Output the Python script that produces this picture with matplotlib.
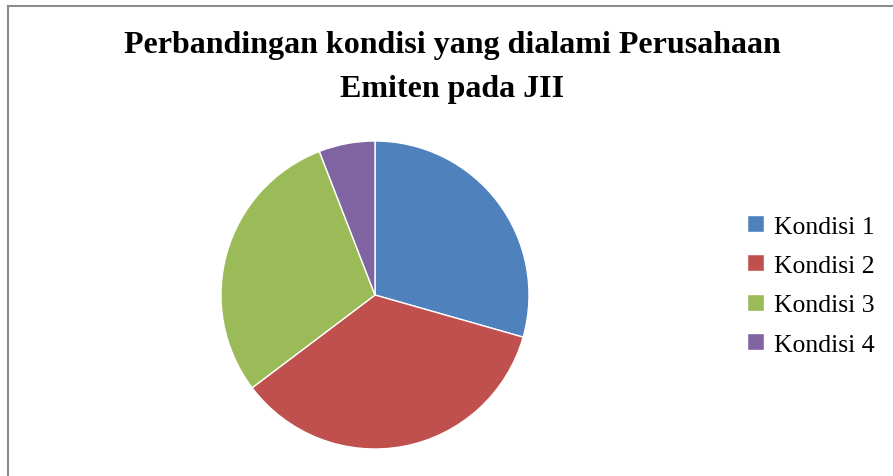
import matplotlib.pyplot as plt
from matplotlib.lines import Line2D

# data
labels = ["Kondisi 1", "Kondisi 2", "Kondisi 3", "Kondisi 4"]
values = [10, 12, 10, 2]
colors = ["#4F81BD", "#C0504D", "#9BBB59", "#8064A2"]

plt.rcParams['font.family'] = ['Liberation Serif', 'DejaVu Serif']

W, H = 893, 477
fig = plt.figure(figsize=(W / 100, H / 100), dpi=100)

# chart border (top and left edge visible)
fig.add_artist(Line2D([8 / W, 1], [1 - 7 / H, 1 - 7 / H], color="#8c8c8c", lw=1.5))
fig.add_artist(Line2D([8 / W, 8 / W], [0, 1 - 7 / H], color="#8c8c8c", lw=1.5))

cx, cy, r = 375, 296, 154
ax = fig.add_axes([(cx - r) / W, (H - cy - r) / H, 2 * r / W, 2 * r / H])
wedges, _ = ax.pie(values, colors=colors, startangle=90, counterclock=False,
                   wedgeprops=dict(edgecolor="white", linewidth=1))
ax.set_xlim(-1, 1)
ax.set_ylim(-1, 1)
ax.set_aspect("equal")

fig.text(452 / W, 1 - 46 / H, "Perbandingan kondisi yang dialami Perusahaan",
         ha="center", va="center", fontsize=23, fontweight="bold")
fig.text(452 / W, 1 - 90 / H, "Emiten pada JII",
         ha="center", va="center", fontsize=23, fontweight="bold")

fig.legend(wedges, labels, loc="upper left", bbox_to_anchor=(747 / W, 1 - 216 / H),
           frameon=False, fontsize=18.5, handlelength=0.65, handleheight=0.65,
           handletextpad=0.4, labelspacing=0.65, borderpad=0, borderaxespad=0)

fig.savefig("out.png", dpi=100)
